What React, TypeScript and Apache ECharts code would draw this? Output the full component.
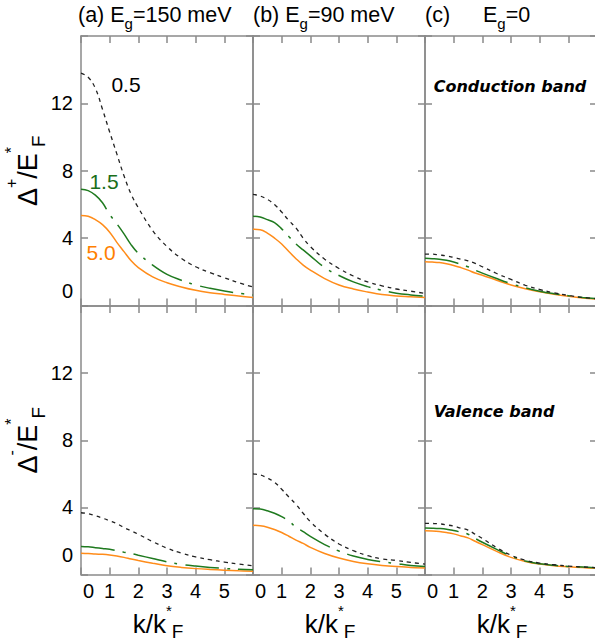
import React, { useEffect, useRef } from 'react';
import * as echarts from 'echarts';

// k / k*_F sample points
const K = [0, 0.25, 0.5, 0.75, 1, 1.25, 1.5, 1.75, 2, 2.5, 3, 3.5, 4, 4.5, 5, 5.5, 6];

// Conduction band (Δ+/E*_F)
const condA_05 = [13.8, 13.55, 12.9, 11.65, 10.3, 9.0, 7.7, 6.6, 5.8, 4.45, 3.5, 2.8, 2.3, 1.95, 1.65, 1.35, 1.1];
const condA_15 = [6.9, 6.82, 6.55, 6.1, 5.4, 4.85, 4.25, 3.6, 3.1, 2.4, 1.85, 1.5, 1.22, 1.02, 0.86, 0.73, 0.62];
const condA_50 = [5.35, 5.3, 5.1, 4.8, 4.35, 3.75, 3.2, 2.65, 2.25, 1.7, 1.35, 1.1, 0.9, 0.76, 0.66, 0.56, 0.48];
const condB_05 = [6.6, 6.5, 6.3, 6.0, 5.55, 5.05, 4.6, 4.0, 3.5, 2.75, 2.2, 1.75, 1.4, 1.17, 0.98, 0.85, 0.72];
const condB_15 = [5.3, 5.25, 5.1, 4.92, 4.55, 4.1, 3.65, 3.3, 2.95, 2.25, 1.78, 1.4, 1.12, 0.9, 0.73, 0.63, 0.56];
const condB_50 = [4.53, 4.5, 4.3, 4.0, 3.65, 3.2, 2.78, 2.4, 2.1, 1.6, 1.22, 0.98, 0.8, 0.65, 0.57, 0.52, 0.47];
const condC_05 = [3.05, 3.05, 3.0, 2.95, 2.85, 2.75, 2.65, 2.5, 2.3, 1.9, 1.55, 1.2, 0.95, 0.75, 0.6, 0.48, 0.4];
const condC_15 = [2.8, 2.78, 2.75, 2.68, 2.58, 2.45, 2.3, 2.1, 1.92, 1.6, 1.3, 1.05, 0.85, 0.7, 0.58, 0.48, 0.4];
const condC_50 = [2.6, 2.58, 2.55, 2.48, 2.38, 2.25, 2.1, 1.93, 1.8, 1.5, 1.22, 1.0, 0.82, 0.67, 0.55, 0.45, 0.38];

// Valence band (Δ-/E*_F)
const valA_05 = [3.68, 3.62, 3.5, 3.36, 3.2, 3.03, 2.8, 2.6, 2.4, 1.96, 1.57, 1.27, 1.05, 0.88, 0.74, 0.62, 0.52];
const valA_15 = [1.67, 1.65, 1.6, 1.55, 1.5, 1.42, 1.33, 1.25, 1.15, 0.95, 0.75, 0.6, 0.5, 0.42, 0.36, 0.31, 0.28];
const valA_50 = [1.27, 1.25, 1.22, 1.2, 1.16, 1.1, 1.02, 0.92, 0.83, 0.67, 0.52, 0.42, 0.35, 0.3, 0.26, 0.22, 0.19];
const valB_05 = [6.0, 5.93, 5.75, 5.5, 5.08, 4.62, 4.18, 3.65, 3.15, 2.4, 1.82, 1.42, 1.12, 0.93, 0.84, 0.72, 0.62];
const valB_15 = [3.92, 3.9, 3.8, 3.65, 3.45, 3.18, 2.82, 2.55, 2.27, 1.78, 1.4, 1.1, 0.9, 0.76, 0.65, 0.54, 0.48];
const valB_50 = [2.93, 2.9, 2.82, 2.68, 2.5, 2.28, 2.05, 1.85, 1.62, 1.25, 0.98, 0.78, 0.64, 0.54, 0.47, 0.42, 0.38];
const valC_05 = [3.05, 3.04, 3.02, 2.96, 2.88, 2.76, 2.65, 2.4, 2.15, 1.6, 1.15, 0.85, 0.68, 0.58, 0.5, 0.45, 0.41];
const valC_15 = [2.77, 2.76, 2.74, 2.7, 2.62, 2.52, 2.4, 2.15, 1.92, 1.5, 1.1, 0.8, 0.64, 0.55, 0.48, 0.44, 0.4];
const valC_50 = [2.6, 2.59, 2.56, 2.5, 2.42, 2.3, 2.18, 1.98, 1.78, 1.38, 1.02, 0.78, 0.62, 0.52, 0.46, 0.41, 0.36];

const PANEL_LETTERS = ['(a)', '(b)', '(c)'];
const PANEL_GAPS = ['=150 meV', '=90 meV', '=0'];
const CURVE_LABELS = ['0.5', '1.5', '5.0'];
const BAND_LABELS = ['Conduction band', 'Valence band'];

const PANELS = [
  { row: 0, col: 0, curves: [condA_05, condA_15, condA_50] },
  { row: 0, col: 1, curves: [condB_05, condB_15, condB_50] },
  { row: 0, col: 2, curves: [condC_05, condC_15, condC_50] },
  { row: 1, col: 0, curves: [valA_05, valA_15, valA_50] },
  { row: 1, col: 1, curves: [valB_05, valB_15, valB_50] },
  { row: 1, col: 2, curves: [valC_05, valC_15, valC_50] },
];

const FONT = 'Liberation Sans, Arial, Helvetica, sans-serif';
const AXIS_COLOR = '#8a8a8a';
const BLACK = '#222222';
const GREEN = '#1f7a1f';
const ORANGE = '#ff8c1a';
const COL_LEFT = [81, 253, 425];
const PANEL_W = 172;

const CURVE_STYLES = [
  { color: BLACK, width: 1.3, type: [4, 4] },
  { color: GREEN, width: 1.5, type: [34, 8, 3, 8] },
  { color: ORANGE, width: 1.5, type: 'solid' },
];

function buildOption() {
  const grid: any[] = [];
  const xAxis: any[] = [];
  const yAxis: any[] = [];
  const series: any[] = [];

  PANELS.forEach((p, i) => {
    const top = p.row === 0 ? 36 : 306;
    const height = p.row === 0 ? 269.5 : 268.5;
    grid.push({ left: COL_LEFT[p.col], top, width: PANEL_W, height, outerBoundsMode: 'none', containLabel: false });
    const axisLine = { show: true, onZero: false, lineStyle: { color: AXIS_COLOR, width: 1.5 } };
    const axisTick = { show: true, inside: true, length: 7, lineStyle: { color: AXIS_COLOR, width: 1.5 } };
    const common = { type: 'value', gridIndex: i, axisLine, axisTick, splitLine: { show: false } };

    xAxis.push({
      ...common,
      position: 'bottom',
      min: 0,
      max: 6,
      interval: 1,
      axisLabel:
        p.row === 1
          ? {
              show: true,
              showMinLabel: true,
              showMaxLabel: true,
              margin: 6,
              color: '#000',
              fontSize: 20,
              fontFamily: FONT,
              formatter: (v: number) => (v === 0 ? '{z|0}' : v === 6 ? '' : String(v)),
              rich: { z: { fontSize: 20, fontFamily: FONT, color: '#000', padding: [0, 0, 0, 15] } },
            }
          : { show: false },
      name: p.row === 1 ? '{a|k/k}{sup|*}{sub|F}' : '',
      nameLocation: 'middle',
      nameGap: 30,
      nameMoveOverlap: false,
      nameTextStyle: {
        color: '#000',
        padding: [0, 18, 0, 0],
        rich: {
          a: { fontSize: 26, fontFamily: FONT, color: '#000', height: 38, lineHeight: 38, verticalAlign: 'top' },
          sup: { fontSize: 15, fontFamily: FONT, color: '#000', height: 12, lineHeight: 12, verticalAlign: 'top' },
          sub: { fontSize: 19, fontFamily: FONT, color: '#000', height: 54, lineHeight: 54, verticalAlign: 'top' },
        },
      },
    });
    xAxis.push({ ...common, position: 'top', min: 0, max: 6, interval: 1, axisLabel: { show: false } });

    const zeroPad = p.row === 0 ? 30 : 40;
    yAxis.push({
      ...common,
      position: 'left',
      min: 0,
      max: 16,
      interval: 4,
      axisLabel:
        p.col === 0
          ? {
              show: true,
              showMinLabel: true,
              margin: 8,
              color: '#000',
              fontSize: 20,
              fontFamily: FONT,
              formatter: (v: number) => (v === 0 ? '{z|0}' : v === 16 ? '' : String(v)),
              rich: { z: { fontSize: 20, fontFamily: FONT, color: '#000', padding: [0, 0, zeroPad, 0] } },
            }
          : { show: false },
      name: p.col === 0 ? (p.row === 0 ? '{a|Δ}{sup|+}{a|/E}{sup|*}{sub|F}' : '{a|Δ}{sup|-}{a|/E}{sup|*}{sub|F}') : '',
      nameLocation: 'middle',
      nameRotate: 90,
      nameGap: 11,
      nameMoveOverlap: false,
      nameTextStyle: {
        color: '#000',
        rich: {
          a: { fontSize: 27, fontFamily: FONT, color: '#000', height: 44, lineHeight: 44, verticalAlign: 'top' },
          sup: { fontSize: 16, fontFamily: FONT, color: '#000', height: 10, lineHeight: 10, verticalAlign: 'top' },
          sub: { fontSize: 19, fontFamily: FONT, color: '#000', height: 64, lineHeight: 64, verticalAlign: 'top' },
        },
      },
    });
    yAxis.push({ ...common, position: 'right', min: 0, max: 16, interval: 4, axisLabel: { show: false } });

    p.curves.forEach((vals, j) => {
      const st = CURVE_STYLES[j];
      series.push({
        type: 'line',
        name: `${i}-${CURVE_LABELS[j]}`,
        xAxisIndex: 2 * i,
        yAxisIndex: 2 * i,
        data: K.map((k, n) => [k, vals[n]]),
        smooth: 0.4,
        symbol: 'none',
        silent: true,
        lineStyle: { color: st.color, width: st.width, type: st.type },
        z: 3 - j,
      });
    });
  });

  const titleRich = {
    n: { fontSize: 21.5, fontFamily: FONT, color: '#000', height: 22, lineHeight: 22, verticalAlign: 'top' },
    s: { fontSize: 15, fontFamily: FONT, color: '#000', height: 38, lineHeight: 38, verticalAlign: 'top' },
  };
  const bandFont = `italic bold 16px DejaVu Sans, sans-serif`;
  const labelFont = `21px ${FONT}`;
  const graphic: any[] = [
    { type: 'text', left: 78, top: 4, style: { text: `{n|${PANEL_LETTERS[0]} E}{s|g}{n|${PANEL_GAPS[0]}}`, rich: titleRich } },
    { type: 'text', left: 253, top: 4, style: { text: `{n|${PANEL_LETTERS[1]} E}{s|g}{n|${PANEL_GAPS[1]}}`, rich: titleRich } },
    { type: 'text', left: 425, top: 4, style: { text: `{n|${PANEL_LETTERS[2]}}`, rich: titleRich } },
    { type: 'text', left: 483, top: 4, style: { text: `{n|E}{s|g}{n|${PANEL_GAPS[2]}}`, rich: titleRich } },
    { type: 'text', x: 126, y: 84, style: { text: CURVE_LABELS[0], fill: '#000', font: labelFont, align: 'center', verticalAlign: 'middle' } },
    { type: 'text', x: 104, y: 181, style: { text: CURVE_LABELS[1], fill: '#1a6e1a', font: labelFont, align: 'center', verticalAlign: 'middle' } },
    { type: 'text', x: 101, y: 252, style: { text: CURVE_LABELS[2], fill: '#ff8000', font: labelFont, align: 'center', verticalAlign: 'middle' } },
    { type: 'text', x: 510, y: 86, style: { text: BAND_LABELS[0], fill: '#000', font: bandFont, align: 'center', verticalAlign: 'middle' } },
    { type: 'text', x: 494, y: 411, style: { text: BAND_LABELS[1], fill: '#000', font: bandFont, align: 'center', verticalAlign: 'middle' } },
  ];

  return {
    animation: false,
    backgroundColor: '#ffffff',
    grid,
    xAxis,
    yAxis,
    series,
    graphic,
  };
}

export default function App() {
  const ref = useRef<HTMLDivElement>(null);
  useEffect(() => {
    if (!ref.current) return;
    const chart = echarts.init(ref.current, undefined, { renderer: 'svg' });
    chart.setOption(buildOption() as any);
    return () => chart.dispose();
  }, []);
  return <div ref={ref} style={{ position: 'absolute', left: 0, top: 0, width: 595, height: 641 }} />;
}
